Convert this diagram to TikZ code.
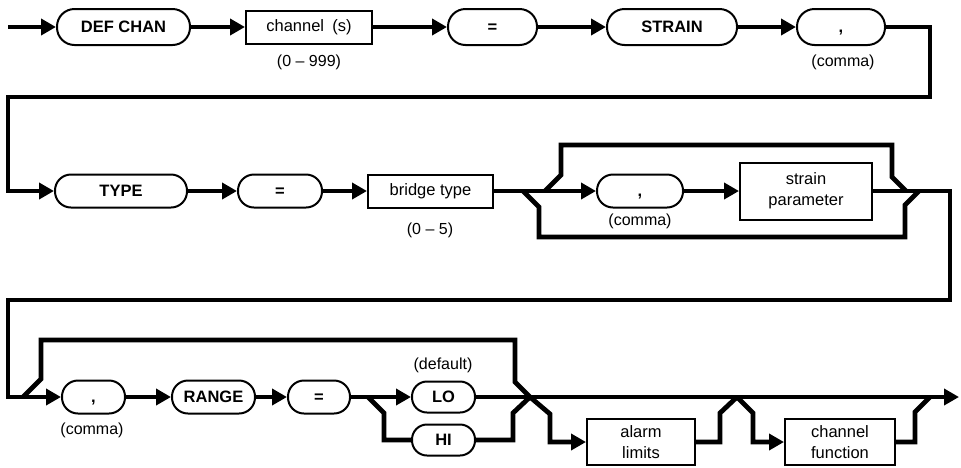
\documentclass[tikz,border=0pt]{standalone}
\usepackage{fontspec}
\setmainfont{Liberation Sans}
\usetikzlibrary{arrows.meta}
\begin{document}
\begin{tikzpicture}[x=1pt,y=-1pt,
  wire/.style={line width=4.8pt, line join=miter},
  flow/.style={wire, -{Triangle[length=15pt,width=16pt]}},
  pill/.style={draw, line width=2pt, inner sep=0pt, minimum height=36pt,
    text height=11.8pt, text depth=0pt,
    rounded corners=17.5pt, font=\bfseries\fontsize{16.5}{19}\selectfont},
  lowpill/.style={pill, minimum height=33pt, rounded corners=16pt},
  slimpill/.style={pill, minimum height=31pt, rounded corners=15pt},
  keybox/.style={draw, line width=2pt, inner sep=0pt, align=center,
    font=\fontsize{16.5}{21}\selectfont},
  lbl/.style={inner sep=0pt, font=\fontsize{16}{19}\selectfont}]
\useasboundingbox (0,0) rectangle (961,467);

% ---- first line: DEF CHAN channel(s) = STRAIN ,
\node[pill, minimum width=133pt] (defchan) at (123.5,27) {DEF CHAN};
\node[keybox, minimum width=126pt, minimum height=33pt] (chan) at (309,27) {channel\hspace{0.5em}(s)};
\node[lbl] (chanrange) at (309,62) {(0 -- 999)};
\node[pill, minimum width=89pt] (eqa) at (492.5,27) {=};
\node[pill, minimum width=130pt] (strain) at (672,27) {STRAIN};
\node[pill, minimum width=88pt] (cma) at (841,27) {,};
\node[lbl] (cmalbl) at (843,62) {(comma)};

% ---- second line: TYPE = bridge type [, strain parameter]
\node[lowpill, minimum width=132pt] (type) at (121,191) {TYPE};
\node[lowpill, minimum width=84pt] (eqb) at (280,191) {=};
\node[keybox, minimum width=125pt, minimum height=33pt] (bridge) at (430.5,191) {bridge type};
\node[lbl] (bridgerange) at (430,230) {(0 -- 5)};
\node[lowpill, minimum width=86pt] (cmb) at (640,191) {,};
\node[lbl] (cmblbl) at (640,221) {(comma)};
\node[keybox, minimum width=132pt, minimum height=57pt] (sparam) at (806,191) {strain\\parameter};

% ---- third line: [, RANGE = LO|HI] [alarm limits] [channel function]
\node[lowpill, minimum width=63pt] (cmc) at (93.5,397) {,};
\node[lbl] (cmclbl) at (92,430) {(comma)};
\node[lowpill, minimum width=83pt] (range) at (213.5,397) {RANGE};
\node[lowpill, minimum width=62pt] (eqc) at (319,397) {=};
\node[slimpill, minimum width=63pt] (lo) at (443.5,397) {LO};
\node[lbl] (lolbl) at (443,365) {(default)};
\node[slimpill, minimum width=63pt] (hi) at (443.5,440) {HI};
\node[keybox, minimum width=108pt, minimum height=46pt] (alarm) at (641,442) {alarm\\limits};
\node[keybox, minimum width=110pt, minimum height=46pt] (chfn) at (840,442) {channel\\function};

% ---- routing points
\coordinate (entry) at (8,27);
\coordinate (ta) at (930,27);
\coordinate (tb) at (930,97);
\coordinate (tc) at (8,97);
\coordinate (td) at (8,191);
\coordinate (ua) at (545,191);
\coordinate (ub) at (561,175);
\coordinate (uc) at (561,145);
\coordinate (ud) at (892,145);
\coordinate (ue) at (892,177);
\coordinate (uf) at (906,191);
\coordinate (la) at (523,191);
\coordinate (lb) at (539,207);
\coordinate (lc) at (539,237);
\coordinate (ld) at (905,237);
\coordinate (le) at (905,205);
\coordinate (lf) at (919,191);
\coordinate (sa) at (950,191);
\coordinate (sb) at (950,300);
\coordinate (sc) at (8,300);
\coordinate (sd) at (8,397);
\coordinate (ra) at (23,397);
\coordinate (rb) at (41,379);
\coordinate (rc) at (41,340);
\coordinate (rd) at (515,340);
\coordinate (re) at (515,382);
\coordinate (mergeA) at (530,397);
\coordinate (ha) at (368,397);
\coordinate (hb) at (384,413);
\coordinate (hc) at (384,440);
\coordinate (hd) at (513,440);
\coordinate (he) at (513,413);
\coordinate (aa) at (550,414);
\coordinate (ab) at (550,442);
\coordinate (ac) at (720,442);
\coordinate (ad) at (720,413);
\coordinate (mergeB) at (737,397);
\coordinate (fa) at (753,413);
\coordinate (fb) at (753,442);
\coordinate (fc) at (915,442);
\coordinate (fd) at (915,412);
\coordinate (fe) at (930,397);
\coordinate (exit) at (959,397);

% ---- first line
\draw[flow] (entry) -- (defchan);
\draw[flow] (defchan) -- (chan);
\draw[flow] (chan) -- (eqa);
\draw[flow] (eqa) -- (strain);
\draw[flow] (strain) -- (cma);
\draw[flow] (cma) -- (ta) -- (tb) -- (tc) -- (td) -- (type);

% ---- second line
\draw[flow] (type) -- (eqb);
\draw[flow] (eqb) -- (bridge);
\draw[flow] (bridge) -- (cmb);
\draw[flow] (cmb) -- (sparam);
\draw[wire] (ua) -- (ub) -- (uc) -- (ud) -- (ue) -- (uf);
\draw[wire] (la) -- (lb) -- (lc) -- (ld) -- (le) -- (lf);
\draw[flow] (sparam) -- (sa) -- (sb) -- (sc) -- (sd) -- (cmc);

% ---- third line
\draw[wire] (ra) -- (rb) -- (rc) -- (rd) -- (re) -- (mergeA);
\draw[flow] (cmc) -- (range);
\draw[flow] (range) -- (eqc);
\draw[flow] (eqc) -- (lo);
\draw[flow] (lo) -- (exit);
\draw[wire] (ha) -- (hb) -- (hc) -- (hi);
\draw[wire] (hi) -- (hd) -- (he) -- (mergeA);
\draw[flow] (mergeA) -- (aa) -- (ab) -- (alarm);
\draw[wire] (alarm) -- (ac) -- (ad) -- (mergeB);
\draw[flow] (mergeB) -- (fa) -- (fb) -- (chfn);
\draw[wire] (chfn) -- (fc) -- (fd) -- (fe);
\end{tikzpicture}
\end{document}
